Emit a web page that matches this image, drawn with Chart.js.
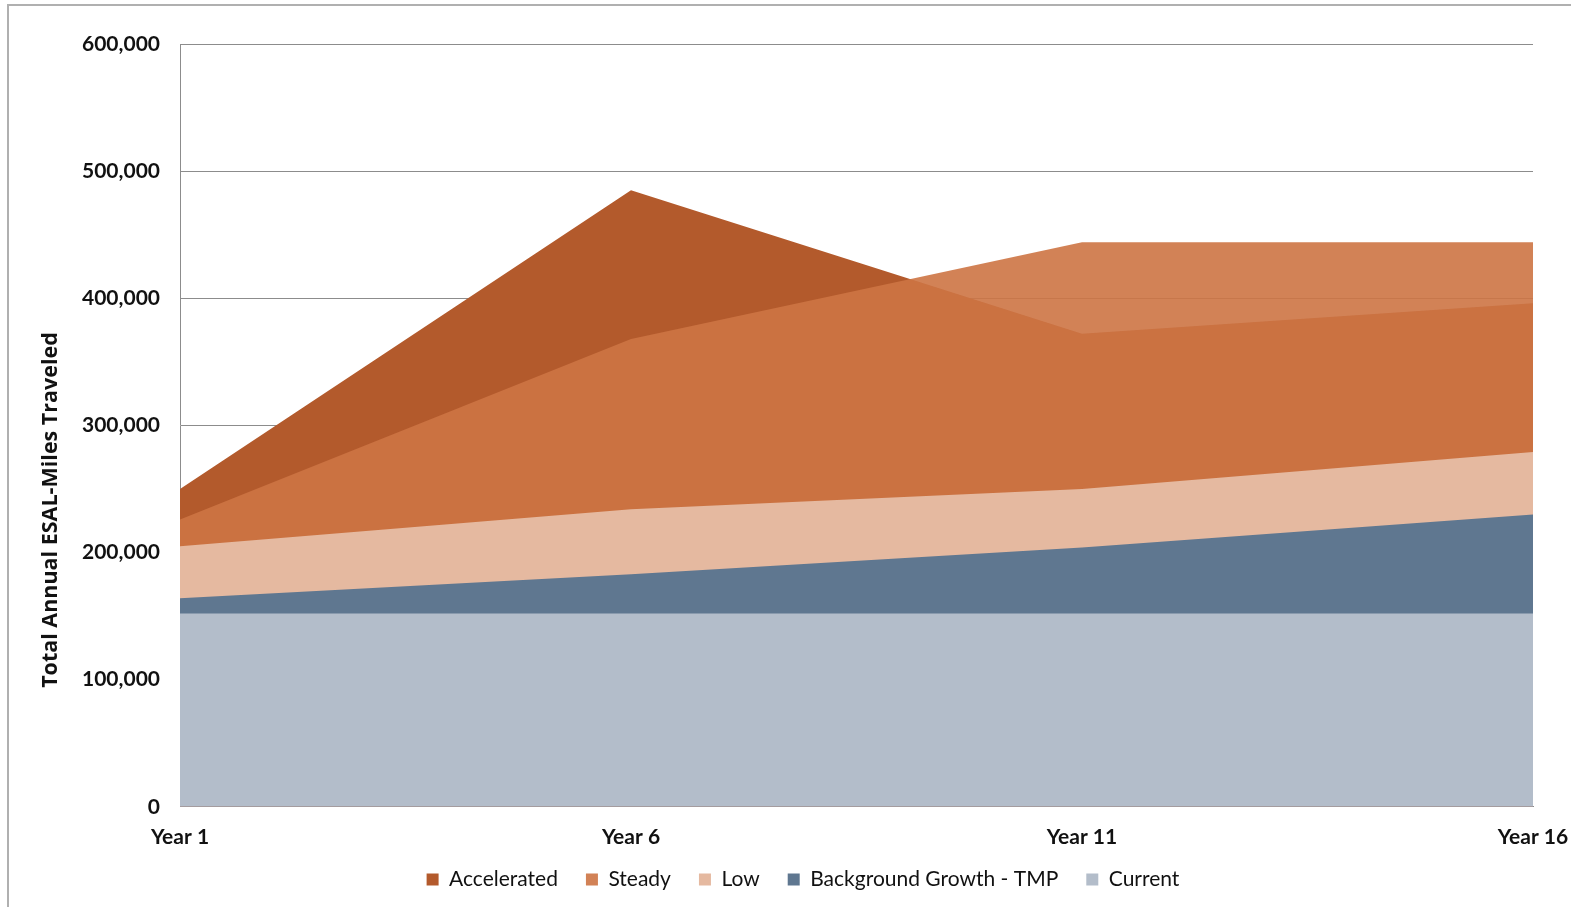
<!DOCTYPE html>
<html>
<head>
<meta charset="utf-8">
<script src="https://cdn.jsdelivr.net/npm/chart.js@4"></script>
<style>
  html, body { margin: 0; padding: 0; background: #fff; overflow: hidden; }
  .frame {
    position: absolute; left: 7px; top: 4px; width: 1700px; height: 1000px;
    border-left: 2px solid #b0b0b0; border-top: 2px solid #b0b0b0;
  }
  #wrap { position: absolute; left: 0; top: 0; width: 1571px; height: 907px; }
</style>
</head>
<body>
<div class="frame"></div>
<div id="wrap"><canvas id="chart" width="1571" height="907"></canvas></div>
<script>
// 年次ラベル
var years = ['Year 1', 'Year 6', 'Year 11', 'Year 16'];

// シリーズ（値は図から読み取り）
var accelerated = [250000, 485000, 372000, 396000];
var steady = [226000, 368000, 444000, 444000];
var low = [205000, 234000, 250000, 279000];
var backgroundGrowth = [164000, 183000, 204000, 230000];
var current = [152000, 152000, 152000, 152000];

var yTicks = [0, 100000, 200000, 300000, 400000, 500000, 600000];
var yTitle = 'Total Annual ESAL-Miles Traveled';

var FONT = 'Lato, "Open Sans", sans-serif';

function area(label, data, color) {
  return {
    label: label,
    data: data,
    backgroundColor: color,
    borderColor: color,
    borderWidth: 0,
    pointRadius: 0,
    fill: 'origin',
    tension: 0
  };
}

// Chart.jsは後ろのデータセットから描くので、奥→手前の順に逆順で並べる
var datasets = [
  area('Current', current, '#b3bdca'),
  area('Background Growth - TMP', backgroundGrowth, '#5f7790'),
  area('Low', low, '#e5b9a0'),
  area('Steady', steady, 'rgba(205, 116, 68, 0.9)'),
  area('Accelerated', accelerated, '#b35a2c')
];

// 縦軸タイトル（元図では軸の中央より下寄りに置かれている）
var yTitlePlugin = {
  id: 'yTitle',
  afterLayout: function(chart) {
    // x軸の高さを詰めたのでラベルが切れないようにクリップ範囲を広げる
    chart.scales.x.bottom = chart.height;
  },
  afterDraw: function(chart) {
    var c = chart.ctx;
    c.save();
    c.translate(51, 510);
    c.rotate(-Math.PI / 2);
    c.fillStyle = '#111';
    c.font = 'bold 21.5px "Open Sans", Lato, sans-serif';
    c.textAlign = 'center';
    c.textBaseline = 'middle';
    c.fillText(yTitle, 0, 0);
    c.restore();
  }
};

var ctx = document.getElementById('chart').getContext('2d');
new Chart(ctx, {
  type: 'line',
  data: { labels: years, datasets: datasets },
  plugins: [yTitlePlugin],
  options: {
    responsive: false,
    animation: false,
    layout: { padding: { left: 73, right: 38, top: 44, bottom: 7 } },
    scales: {
      x: {
        offset: false,
        afterFit: function(scale) {
          scale.height = scale.height - 27;
          scale.paddingLeft = 0;
          scale.paddingRight = 0;
        },
        grid: { display: false, drawTicks: false },
        border: { display: true, color: '#8c8c8c', width: 1 },
        ticks: {
          padding: 18,
          maxRotation: 0,
          autoSkip: false,
          color: '#111',
          font: { family: FONT, size: 21, weight: 'bold' }
        }
      },
      y: {
        min: 0,
        max: 600000,
        afterBuildTicks: function(scale) {
          scale.ticks = yTicks.map(function(v) { return { value: v }; });
        },
        afterFit: function(scale) { scale.width = 107; },
        grid: { color: '#8c8c8c', lineWidth: 1, drawTicks: false },
        border: { display: true, color: '#8c8c8c', width: 1 },
        ticks: {
          padding: 20,
          color: '#111',
          font: { family: FONT, size: 21, weight: 'bold' },
          callback: function(v) { return v.toLocaleString('en-US'); }
        }
      }
    },
    plugins: {
      legend: {
        position: 'bottom',
        reverse: true,
        labels: {
          boxWidth: 12,
          boxHeight: 12,
          padding: 28,
          color: '#111',
          font: { family: FONT, size: 21 }
        }
      },
      tooltip: { enabled: false }
    }
  }
});
</script>
</body>
</html>
